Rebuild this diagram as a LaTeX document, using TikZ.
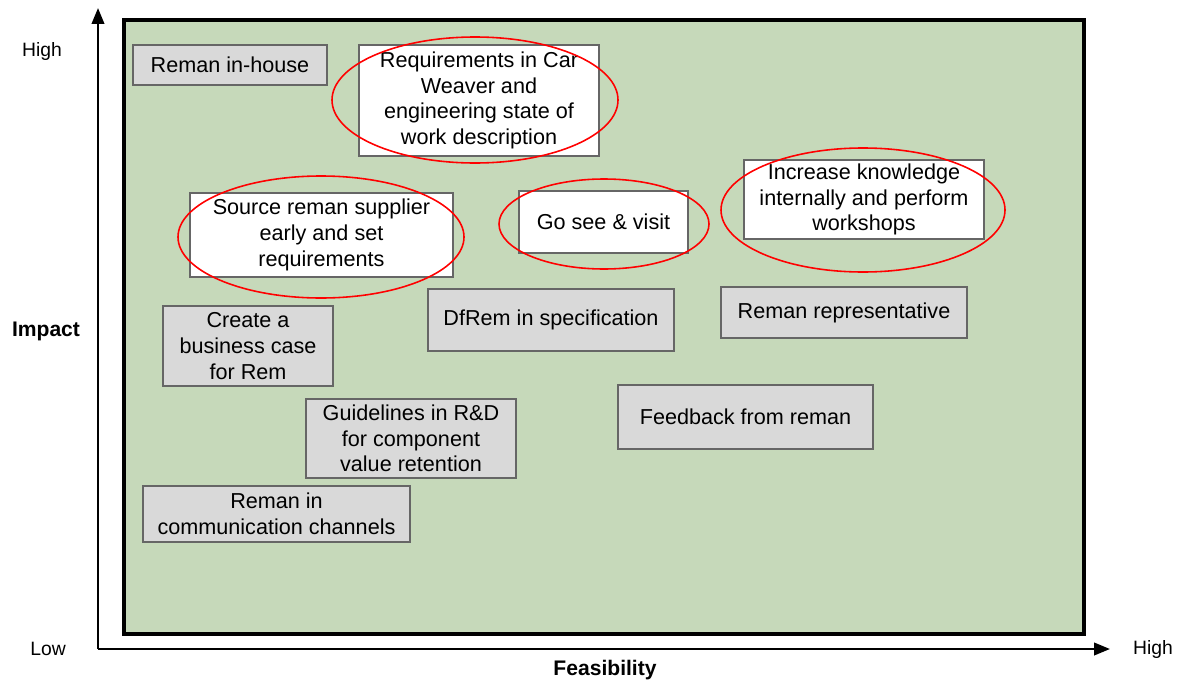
\documentclass[tikz,border=0pt]{standalone}
\usepackage{fontspec}
\setmainfont{Liberation Sans}
\usetikzlibrary{arrows.meta}

\definecolor{chartgreen}{RGB}{198,217,186}
\definecolor{boxgray}{RGB}{217,217,217}
\definecolor{edgegray}{RGB}{102,102,102}

\begin{document}
\begin{tikzpicture}[
    item/.style={draw=edgegray,fill=boxgray,line width=0.8pt,align=center,
        inner sep=2pt,font=\fontsize{12.3}{14.6}\selectfont},
    pick/.style={item,fill=white},
    ring/.style={draw=red,line width=0.9pt},
    axis/.style={line width=1.4pt,-{Triangle[length=9pt,width=7pt]}}]
\useasboundingbox (0,0) rectangle (23.68,13.64);

% the field
\draw [fill=chartgreen,line width=1.8pt] (2.48,0.96) rectangle (21.68,13.24);

% axes
\coordinate (o) at (1.96,0.66);
\coordinate (ytop) at (1.96,13.48);
\coordinate (xend) at (22.2,0.66);
\draw [axis] (o) -- (ytop);
\draw [axis] (o) -- (xend);
\node [font=\fontsize{11}{13}\selectfont] (ylow) at (0.96,0.66) {Low};
\node [font=\fontsize{11}{13}\selectfont] (xhigh) at (23.06,0.66) {High};
\node [font=\fontsize{11}{13}\selectfont] (yhigh) at (0.84,12.6) {High};
\node [font=\fontsize{12}{14}\selectfont\bfseries] (impact) at (0.92,7.02) {Impact};
\node [font=\fontsize{12}{14}\selectfont\bfseries] (feas) at (12.1,0.24) {Feasibility};

% measures
\node [item,minimum width=3.88cm,minimum height=0.8cm] (inhouse) at (4.6,12.34)
    {Reman in-house};
\node [pick,minimum width=4.8cm,minimum height=2.22cm] (carweaver) at (9.58,11.63)
    {Requirements in Car\\ Weaver and\\ engineering state of\\ work description};
\node [pick,minimum width=5.26cm,minimum height=1.68cm] (supplier) at (6.43,8.94)
    {Source reman supplier\\ early and set\\ requirements};
\node [pick,minimum width=3.38cm,minimum height=1.24cm] (visit) at (12.07,9.2)
    {Go see \& visit};
\node [pick,minimum width=4.8cm,minimum height=1.58cm] (knowledge) at (17.28,9.65)
    {Increase knowledge\\ internally and perform\\ workshops};
\node [item,minimum width=4.92cm,minimum height=1.02cm] (rep) at (16.88,7.39)
    {Reman representative};
\node [item,minimum width=4.92cm,minimum height=1.24cm] (dfrem) at (11.02,7.24)
    {DfRem in specification};
\node [item,minimum width=3.4cm,minimum height=1.6cm] (bcase) at (4.96,6.72)
    {Create a\\ business case\\ for Rem};
\node [item,minimum width=4.2cm,minimum height=1.58cm] (guide) at (8.22,4.87)
    {Guidelines in R\&D\\ for component\\ value retention};
\node [item,minimum width=5.1cm,minimum height=1.28cm] (feedback) at (14.91,5.3)
    {Feedback from reman};
\node [item,minimum width=5.34cm,minimum height=1.12cm] (comm) at (5.53,3.36)
    {Reman in\\ communication channels};

% prioritised ones
\draw [ring] (9.5,11.64) ellipse [x radius=2.86,y radius=1.26];
\draw [ring] (6.42,8.9) ellipse [x radius=2.86,y radius=1.22];
\draw [ring] (12.08,9.16) ellipse [x radius=2.1,y radius=0.9];
\draw [ring] (17.26,9.44) ellipse [x radius=2.84,y radius=1.24];
\end{tikzpicture}
\end{document}
